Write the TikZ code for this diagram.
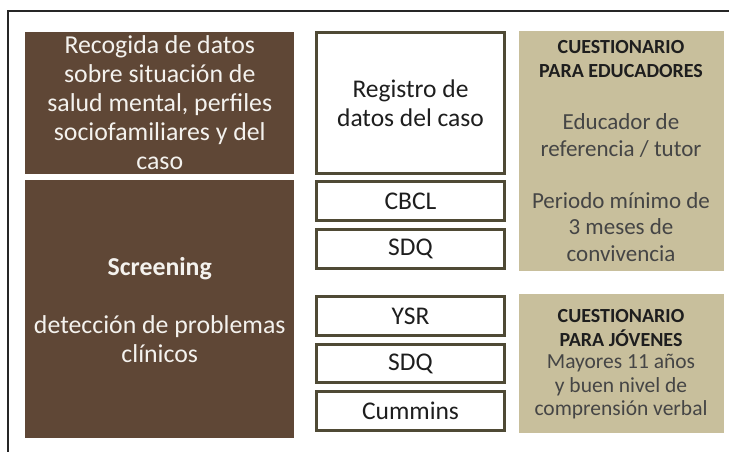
\documentclass[tikz,border=0pt]{standalone}
\usepackage{fontspec}
\setmainfont{Carlito}
\definecolor{brn}{HTML}{5F4736}
\definecolor{tanc}{HTML}{C8BF9C}
\definecolor{olv}{HTML}{4F4A35}
\definecolor{txtw}{HTML}{F4F2EE}
\definecolor{txtd}{HTML}{1E1E1E}
\definecolor{txtg}{HTML}{454545}
\tikzset{
  brownbox/.style={fill=brn, draw=none, inner sep=0pt, align=center, text=txtw,
    font=\fontsize{25.8bp}{29bp}\selectfont},
  whitebox/.style={fill=white, draw=olv, line width=3bp, inner sep=0pt, align=center,
    text=txtd, minimum width=188bp, font=\fontsize{25.5bp}{29bp}\selectfont},
  tanbox/.style={fill=tanc, draw=none, inner sep=0pt, minimum width=205bp},
  tantitle/.style={inner sep=0pt, align=center, text=txtd,
    font=\fontsize{20bp}{24bp}\selectfont\bfseries},
  tanbody/.style={inner sep=0pt, align=center, text=txtg,
    font=\fontsize{23bp}{26.5bp}\selectfont},
  tanbodys/.style={inner sep=0pt, align=center, text=txtg,
    font=\fontsize{21.5bp}{23.5bp}\selectfont},
}
\begin{document}
\begin{tikzpicture}[x=1bp,y=-1bp]
\useasboundingbox (0,0) rectangle (729,452);
\coordinate (fr1) at (729,11);
\coordinate (fr2) at (8,11);
\coordinate (fr3) at (8,452);
\draw[line width=1.5bp, black!85] (fr1) -- (fr2) -- (fr3);

% brown boxes
\node[brownbox, minimum width=268.5bp, minimum height=142bp] (rec) at (159.75,103)
  {Recogida de datos\\sobre situación de\\salud mental, perfiles\\sociofamiliares y del\\caso};
\node[brownbox, minimum width=268.5bp, minimum height=258bp] (scr) at (159.75,309) {};
\node[inner sep=0pt, align=center, text=txtw, font=\fontsize{25.8bp}{29bp}\selectfont] (scrt) at (159.75,310.5)
  {\textbf{Screening}\\[29bp]detección de problemas\\clínicos};

% white boxes
\node[whitebox, minimum height=141bp] (reg) at (410.5,103) {Registro de\\datos del caso};
\node[whitebox, minimum height=39bp] (cbcl) at (410.5,201) {CBCL};
\node[whitebox, minimum height=39bp] (sdq1) at (410.5,249) {SDQ};
\node[whitebox, minimum height=39bp] (ysr) at (410.5,316) {YSR};
\node[whitebox, minimum height=38bp] (sdq2) at (410.5,363.5) {SDQ};
\node[whitebox, minimum height=39bp] (cum) at (410.5,411) {Cummins};

% tan boxes
\node[tanbox, minimum height=240bp] (tan1) at (621,151) {};
\node[tantitle] (t1a) at (621,59) {CUESTIONARIO\\PARA EDUCADORES};
\node[tanbody] (t1b) at (621,135.5) {Educador de\\referencia / tutor};
\node[tanbody] (t1c) at (621,227) {Periodo mínimo de\\3 meses de\\convivencia};

\node[tanbox, minimum height=139bp] (tan2) at (621,363.5) {};
\node[tantitle] (t2a) at (621,328) {CUESTIONARIO\\PARA JÓVENES};
\node[tanbodys] (t2b) at (621,387) {Mayores 11 años\\y buen  nivel de\\comprensión verbal};
\end{tikzpicture}
\end{document}
